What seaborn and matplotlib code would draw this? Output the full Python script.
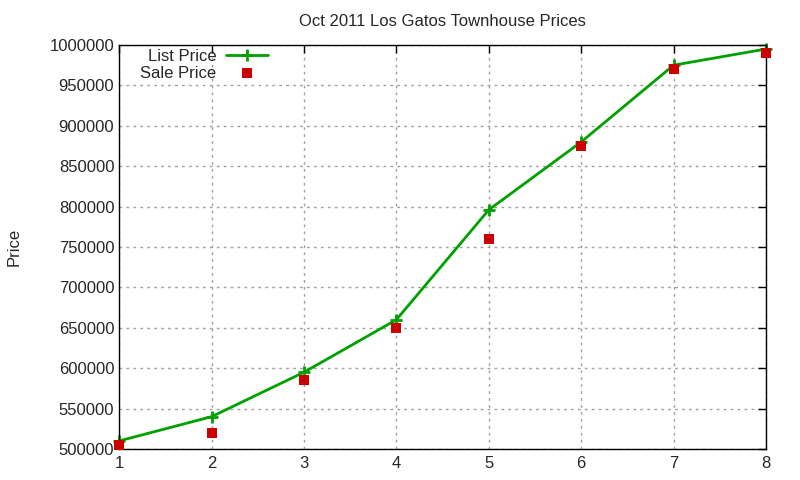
import matplotlib
matplotlib.use("Agg")
import matplotlib.pyplot as plt
import seaborn as sns
import pandas as pd

x = [1, 2, 3, 4, 5, 6, 7, 8]
list_price = [510000, 540000, 595000, 660000, 796000, 880000, 975000, 995000]
sale_price = [505000, 520000, 585000, 650000, 760000, 875000, 970000, 990000]
yticks = [500000, 550000, 600000, 650000, 700000, 750000, 800000, 850000, 900000, 950000, 1000000]

sns.set_style("white")
plt.rcParams['font.family'] = ['Liberation Sans', 'DejaVu Sans']

df = pd.DataFrame({"x": x, "list": list_price, "sale": sale_price})

fig = plt.figure(figsize=(8, 4.8), dpi=100)
ax = fig.add_axes([0.149, 0.0646, 0.8085, 0.8417])

sns.lineplot(data=df, x="x", y="list", ax=ax, color="#00a000", linewidth=2,
             marker="+", markersize=8, markeredgewidth=2, markeredgecolor="#00a000",
             label="List Price", clip_on=False)
sns.scatterplot(data=df, x="x", y="sale", ax=ax, color="#cc0000", marker="s",
                s=50, edgecolor="none", label="Sale Price", zorder=3, clip_on=False)

ax.set_xlim(1, 8)
ax.set_ylim(500000, 1000000)
ax.set_xticks(x)
ax.set_yticks(yticks)
ax.set_yticklabels([str(v) for v in yticks])
ax.set_xlabel("")
ax.set_ylabel("Price", fontsize=12, labelpad=20)
ax.set_title("Oct 2011 Los Gatos Townhouse Prices", fontsize=12, pad=14)
ax.grid(True, color="#a0a0a0", linestyle=(0, (2, 3)), linewidth=1)
ax.tick_params(direction="in", length=6, width=1, labelsize=12, top=True, right=True,
               color="black")
ax.tick_params(axis="x", pad=5)
for s in ax.spines.values():
    s.set_visible(True)
    s.set_color("black")
    s.set_linewidth(1)

leg = ax.legend(loc="upper right", bbox_to_anchor=(0.2303, 0.99), frameon=False,
                markerfirst=False, fontsize=12, handlelength=2.5, labelspacing=0.1,
                borderaxespad=0, borderpad=0, handletextpad=0.6)

fig.savefig("out.png", dpi=100)
